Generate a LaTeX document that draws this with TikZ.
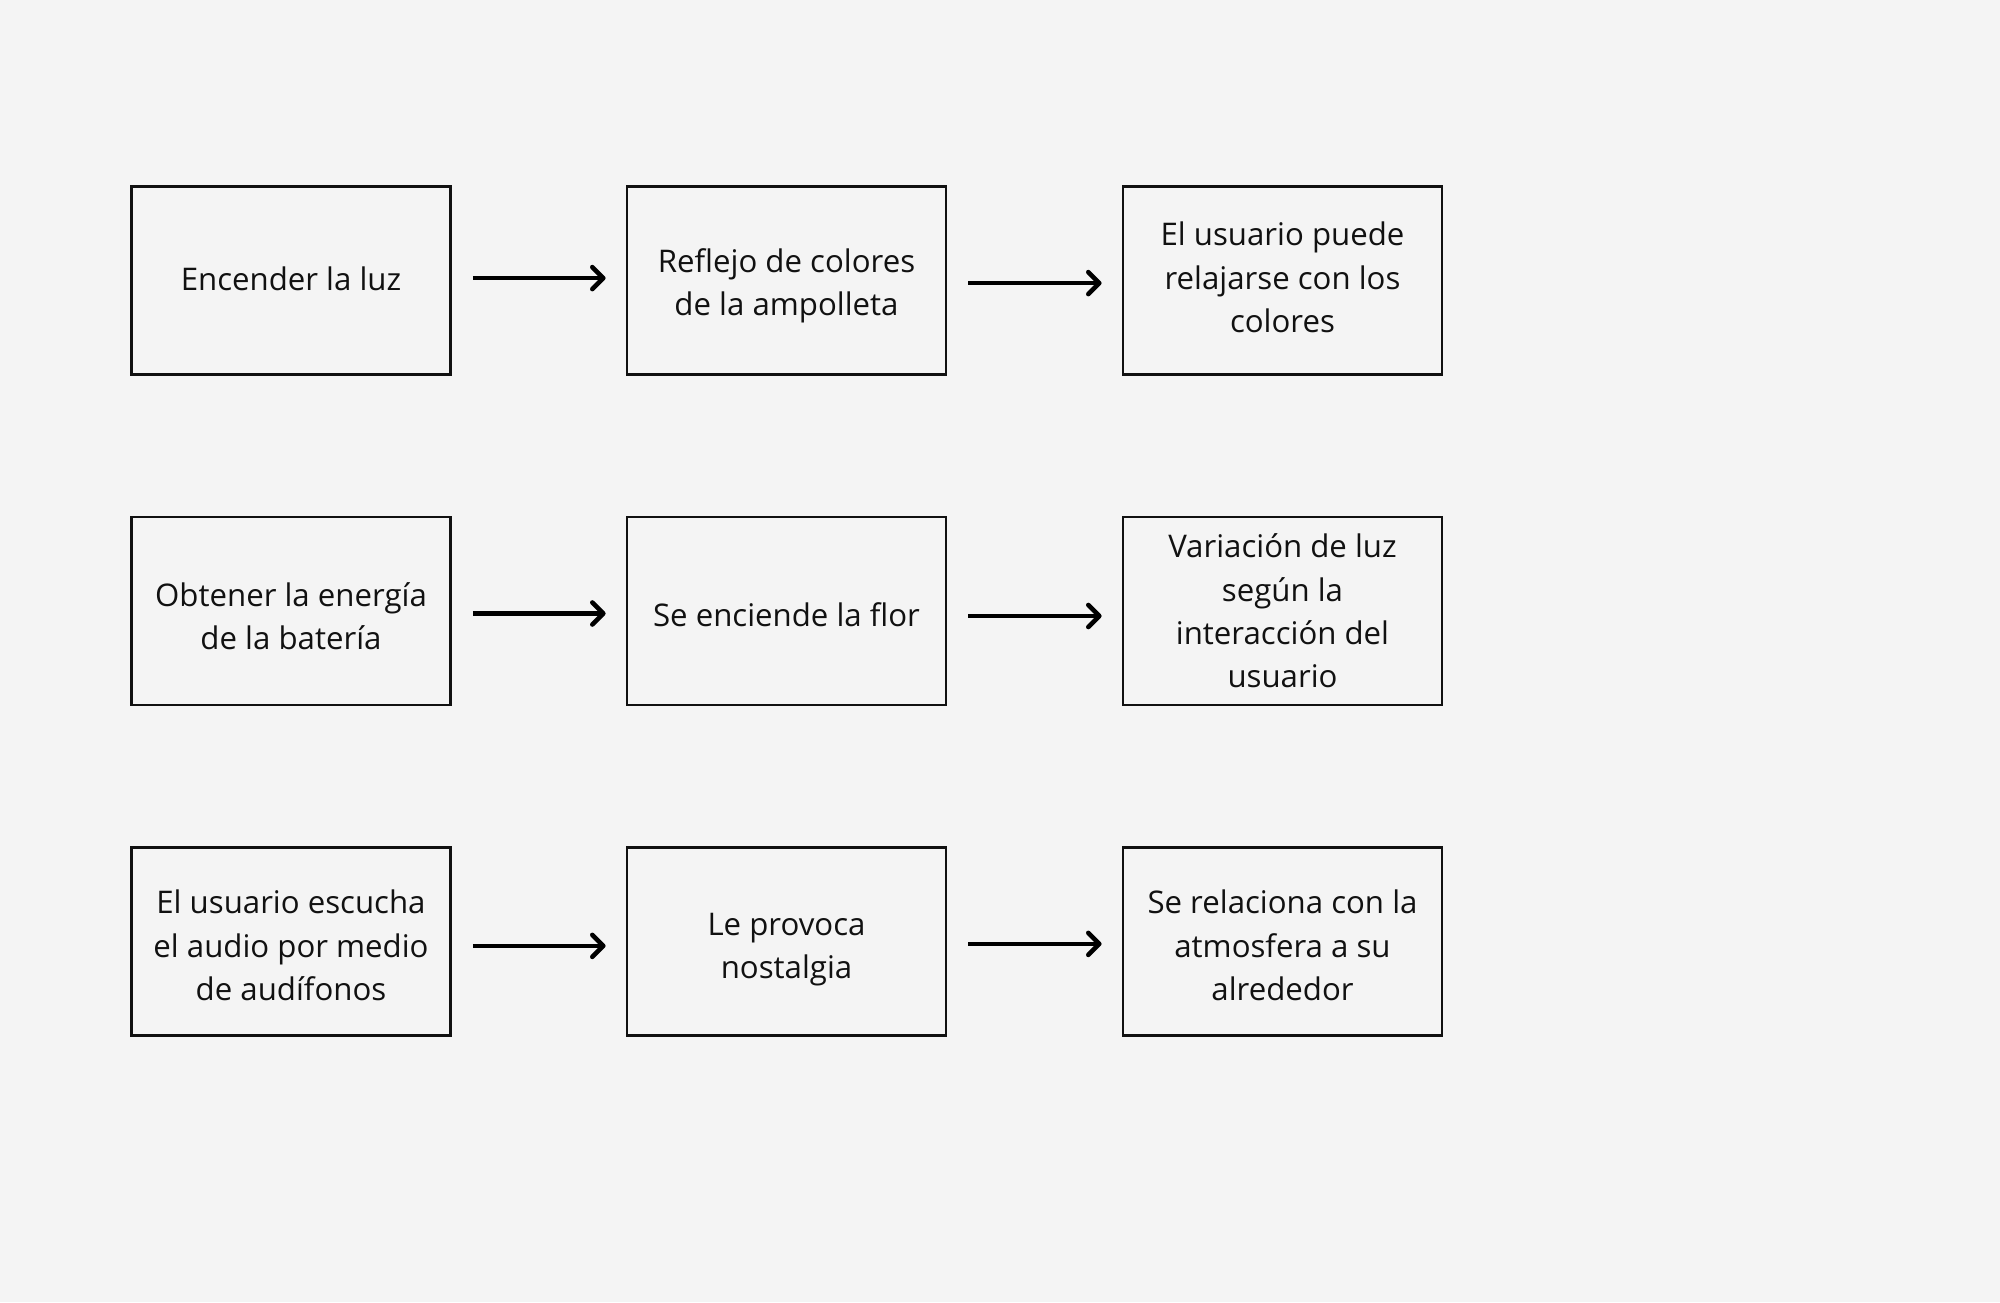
\documentclass[tikz,border=0pt]{standalone}
\usepackage{fontspec}
\setmainfont{Open Sans}
\usetikzlibrary{arrows.meta}
\definecolor{bgc}{HTML}{F4F4F4}
\definecolor{ink}{HTML}{111111}
\begin{document}
\begin{tikzpicture}[x=1pt,y=1pt,
  box/.style={draw=ink,line width=2.8pt,minimum width=319pt,minimum height=188pt,
    inner sep=0pt},
  lbl/.style={inner sep=0pt,align=center,text=ink,
    font=\fontsize{31.2pt}{43.4pt}\selectfont},
  arr/.style={draw=black,line width=4.6pt,shorten <=21pt,shorten >=20pt,
    -{Straight Barb[length=11pt,width=22pt,round]}}]
\fill[bgc] (0,0) rectangle (2000,1302);
\useasboundingbox (0,0) rectangle (2000,1302);
% row 1
\node[box] (a1) at (291,1021.4) {};
\node[box] (a2) at (786.5,1021.4) {};
\node[box] (a3) at (1282.5,1021.4) {};
% row 2
\node[box] (b1) at (291,691) {};
\node[box] (b2) at (786.5,691) {};
\node[box] (b3) at (1282.5,691) {};
% row 3
\node[box] (c1) at (291,360.6) {};
\node[box] (c2) at (786.5,360.6) {};
\node[box] (c3) at (1282.5,360.6) {};
% texts
\node[lbl] (a1t) at ([yshift=1.3pt]a1.center) {Encender la luz};
\node[lbl] (a2t) at ([yshift=-5pt]a2.center) {Reflejo de colores\\de la ampolleta};
\node[lbl] (a3t) at ([yshift=3pt]a3.center) {El usuario puede\\relajarse con los\\colores};
\node[lbl] (b1t) at ([yshift=-5pt]b1.center) {Obtener la energía\\de la batería};
\node[lbl] (b2t) at ([yshift=-4pt]b2.center) {Se enciende la flor};
\node[lbl] (b3t) at (b3.center) {Variación de luz\\según la\\interacción del\\usuario};
\node[lbl] (c1t) at ([yshift=-4pt]c1.center) {El usuario escucha\\el audio por medio\\de audífonos};
\node[lbl] (c2t) at ([yshift=-8pt]c2.center) {Le provoca\\nostalgia};
\node[lbl] (c3t) at ([yshift=-4pt]c3.center) {Se relaciona con la\\atmosfera a su\\alrededor};
% arrows
\draw[arr] ([yshift=2.5pt]a1.east) -- ([yshift=2.5pt]a2.west);
\draw[arr] ([yshift=-2.5pt]a2.east) -- ([yshift=-2.5pt]a3.west);
\draw[arr] ([yshift=-2.5pt]b1.east) -- ([yshift=-2.5pt]b2.west);
\draw[arr] ([yshift=-5pt]b2.east) -- ([yshift=-5pt]b3.west);
\draw[arr] ([yshift=-4.5pt]c1.east) -- ([yshift=-4.5pt]c2.west);
\draw[arr] ([yshift=-2.5pt]c2.east) -- ([yshift=-2.5pt]c3.west);
\end{tikzpicture}
\end{document}
